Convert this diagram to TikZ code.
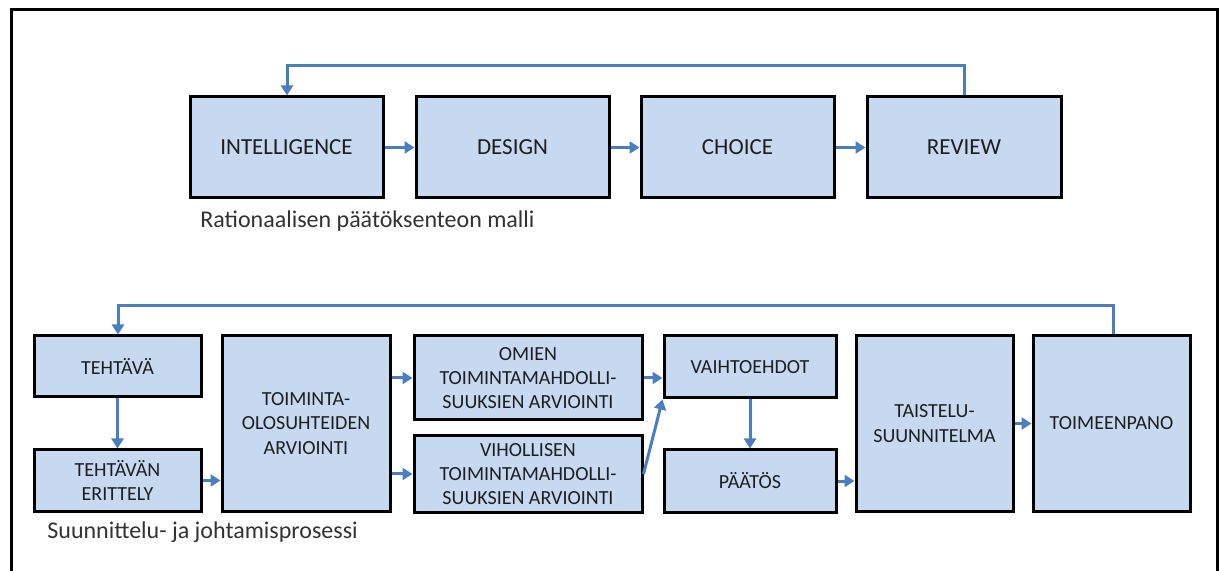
\documentclass[tikz,border=0pt]{standalone}
\usepackage{fontspec}
\setmainfont{Carlito}
\usetikzlibrary{arrows.meta}
\definecolor{boxfill}{RGB}{198,217,240}
\definecolor{arrowblue}{RGB}{74,126,193}
\definecolor{txt}{RGB}{30,30,30}
\definecolor{captxt}{RGB}{50,50,50}
\tikzset{
  box/.style={draw=black, line width=1.5pt, fill=boxfill, inner sep=0pt, text=txt, align=center},
  bigtxt/.style={font=\fontsize{11.5}{14}\selectfont},
  smalltxt/.style={font=\fontsize{10}{12.2}\selectfont},
  conn/.style={draw=arrowblue, line width=1.5pt, -{Triangle[length=5pt,width=6pt]}},
  caption/.style={anchor=west, text=captxt, font=\fontsize{12}{14}\selectfont, inner sep=0pt}
}
\begin{document}
\begin{tikzpicture}[x=0.5pt,y=-0.5pt]
\useasboundingbox (0,0) rectangle (1226,571);
\draw[line width=1.5pt, black] (11,571) -- (11,10) -- (1217,10) -- (1217,571);

% top row
\node[box,bigtxt,minimum width=96.5pt,minimum height=50.5pt] (int) at (286.5,147.5) {INTELLIGENCE};
\node[box,bigtxt,minimum width=96.5pt,minimum height=50.5pt] (des) at (512.5,147.5) {DESIGN};
\node[box,bigtxt,minimum width=96.5pt,minimum height=50.5pt] (cho) at (737.5,147.5) {CHOICE};
\node[box,bigtxt,minimum width=97pt,minimum height=50.5pt] (rev) at (964,147.5) {REVIEW};
\coordinate (tl) at (287,66);
\coordinate (tr) at (964,66);
\draw[conn] (int) -- (des);
\draw[conn] (des) -- (cho);
\draw[conn] (cho) -- (rev);
\draw[conn] (rev.north -| tr) -- (tr) -- (tl) -- (int.north -| tl);
\node[caption] (cap1) at (200,221) {Rationaalisen päätöksenteon malli};

% bottom row
\node[box,smalltxt,minimum width=83.5pt,minimum height=30.5pt] (t1) at (117.5,366.5) {TEHTÄVÄ};
\node[box,smalltxt,minimum width=83.5pt,minimum height=30.5pt] (t2) at (117.5,480.5) {TEHTÄVÄN\\ERITTELY};
\node[box,smalltxt,minimum width=84pt,minimum height=87.5pt] (t3) at (306,423.5) {TOIMINTA-\\OLOSUHTEIDEN\\ARVIOINTI};
\node[box,smalltxt,minimum width=114pt,minimum height=42pt] (t4) at (528,378) {OMIEN\\TOIMINTAMAHDOLLI-\\SUUKSIEN ARVIOINTI};
\node[box,smalltxt,minimum width=114pt,minimum height=38pt] (t5) at (528,474) {VIHOLLISEN\\TOIMINTAMAHDOLLI-\\SUUKSIEN ARVIOINTI};
\node[box,smalltxt,minimum width=86pt,minimum height=31pt] (t6) at (750,367) {VAIHTOEHDOT};
\node[box,smalltxt,minimum width=86pt,minimum height=31pt] (t7) at (750,481) {PÄÄTÖS};
\node[box,smalltxt,minimum width=78.5pt,minimum height=87.5pt] (t8) at (934.5,423.5) {TAISTELU-\\SUUNNITELMA};
\node[box,smalltxt,minimum width=78.5pt,minimum height=87.5pt] (t9) at (1111.5,423.5) {TOIMEENPANO};
\coordinate (bl) at (118,306);
\coordinate (br) at (1113,306);
\draw[conn] (t1) -- (t2);
\draw[conn] (t2.east) -- (t3.west |- t2.east);
\draw[conn] (t3.east |- t4) -- (t4);
\draw[conn] (t3.east |- t5) -- (t5);
\draw[conn] (t4.east) -- (t6.west |- t4.east);
\draw[conn] (t5.east) -- (t6.south west);
\draw[conn] (t6) -- (t7);
\draw[conn] (t7.east) -- (t8.west |- t7.east);
\draw[conn] (t8) -- (t9);
\draw[conn] (t9.north -| br) -- (br) -- (bl) -- (t1.north -| bl);
\node[caption] (cap2) at (47,532) {Suunnittelu- ja johtamisprosessi};
\end{tikzpicture}
\end{document}
